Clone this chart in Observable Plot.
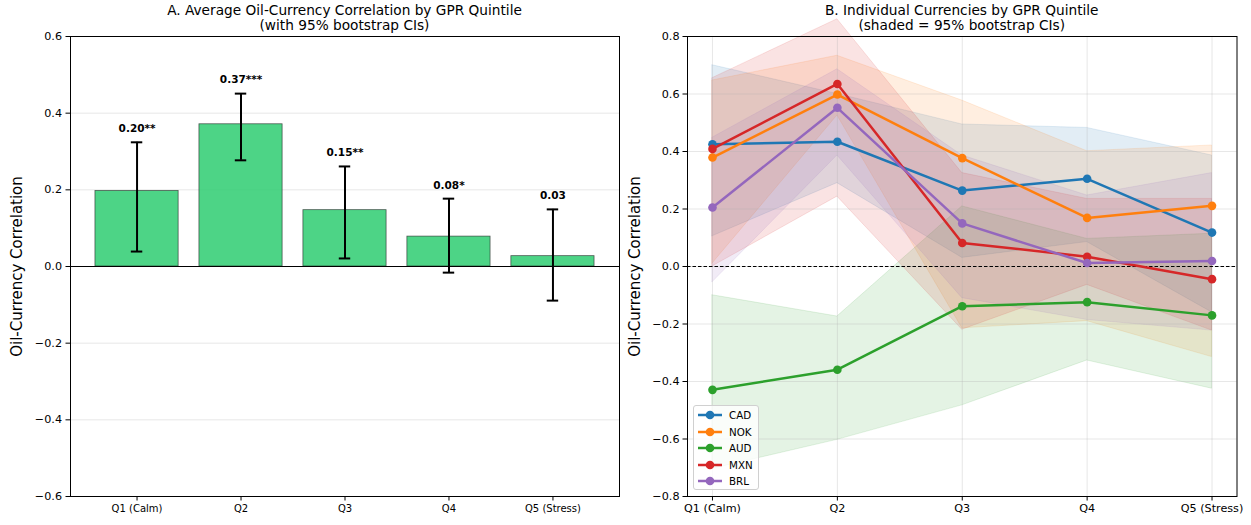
<!DOCTYPE html>
<html><head><meta charset="utf-8">
<script src="https://cdn.jsdelivr.net/npm/d3@7"></script>
<script src="https://cdn.jsdelivr.net/npm/@observablehq/plot@0.6"></script>
<style>
body{margin:0;background:#fff;font-family:"DejaVu Sans",sans-serif;}
#wrap{position:relative;width:1251px;height:525px;overflow:hidden;background:#fff;}
.panel{position:absolute;top:0;}
.title{position:absolute;top:3px;font-size:13.7px;line-height:14.5px;text-align:center;white-space:nowrap;transform:translateX(-50%);color:#000;}
#legend{position:absolute;left:693px;top:405px;width:66px;height:85px;border:1px solid #d0d0d0;border-radius:3px;background:rgba(255,255,255,0.8);box-sizing:border-box;}
.lrow{position:absolute;left:0;height:14px;display:flex;align-items:center;font-size:10.3px;}
.lrow svg{margin-left:4px;margin-right:7px;}
</style></head><body>
<div id="wrap">
 <div id="left" class="panel" style="left:0"></div>
 <div id="right" class="panel" style="left:630px"></div>
 <div class="title" style="left:344.5px">A. Average Oil-Currency Correlation by GPR Quintile<br>(with 95% bootstrap CIs)</div>
 <div class="title" style="left:961.75px">B. Individual Currencies by GPR Quintile<br>(shaded = 95% bootstrap CIs)</div>
 <div id="legend"></div>
</div>
<script>
// ---- Data ----
const quintiles = ["Q1 (Calm)", "Q2", "Q3", "Q4", "Q5 (Stress)"];
const avgCorr = [0.197, 0.371, 0.147, 0.078, 0.027];
const avgLo = [0.039, 0.277, 0.021, -0.016, -0.089];
const avgHi = [0.324, 0.451, 0.261, 0.177, 0.149];
const sigLabels = ["0.20**", "0.37***", "0.15**", "0.08*", "0.03"];
const leftTicks = [-0.6, -0.4, -0.2, 0, 0.2, 0.4, 0.6];
const rightTicks = [-0.8, -0.6, -0.4, -0.2, 0, 0.2, 0.4, 0.6, 0.8];

const currencies = ["CAD", "NOK", "AUD", "MXN", "BRL"];
const colors = ["#1f77b4", "#ff7f0e", "#2ca02c", "#d62728", "#9467bd"];
const cadCorr = [0.425, 0.434, 0.264, 0.305, 0.118];
const cadLo   = [0.105, 0.290, 0.030, 0.085, -0.160];
const cadHi   = [0.700, 0.600, 0.494, 0.482, 0.386];
const nokCorr = [0.379, 0.598, 0.377, 0.169, 0.211];
const nokLo   = [0.010, 0.525, -0.215, -0.190, -0.315];
const nokHi   = [0.647, 0.733, 0.577, 0.401, 0.421];
const audCorr = [-0.429, -0.359, -0.138, -0.124, -0.170];
const audLo   = [-0.704, -0.603, -0.483, -0.327, -0.425];
const audHi   = [-0.100, -0.174, 0.209, 0.096, 0.114];
const mxnCorr = [0.409, 0.635, 0.082, 0.034, -0.044];
const mxnLo   = [0.000, 0.243, -0.220, -0.064, -0.223];
const mxnHi   = [0.655, 0.860, 0.325, 0.235, 0.235];
const brlCorr = [0.205, 0.552, 0.150, 0.012, 0.019];
const brlLo   = [-0.055, 0.386, -0.110, -0.186, -0.223];
const brlHi   = [0.448, 0.686, 0.386, 0.247, 0.325];

const corrs = [cadCorr, nokCorr, audCorr, mxnCorr, brlCorr];
const lows = [cadLo, nokLo, audLo, mxnLo, brlLo];
const highs = [cadHi, nokHi, audHi, mxnHi, brlHi];
const ylabel = "Oil-Currency Correlation";

const font = {fontFamily: "DejaVu Sans", fontSize: "11px", color: "black", overflow: "visible", background: "transparent"};

// ---- Left panel ----
const bars = quintiles.map((q, i) => ({i, q, v: avgCorr[i], lo: avgLo[i], hi: avgHi[i], label: sigLabels[i]}));
const cap = 0.055, bw = 0.4;
const left = Plot.plot({
  width: 630, height: 525,
  marginLeft: 70, marginRight: 11, marginTop: 36, marginBottom: 29,
  style: font,
  x: {type: "linear", domain: [-0.64, 4.64]},
  y: {domain: [-0.6, 0.6]},
  marks: [
    Plot.gridY(leftTicks, {stroke: "#b0b0b0", strokeOpacity: 0.3}),
    Plot.rectY(bars, {x1: d => d.i - bw, x2: d => d.i + bw, y1: 0, y2: "v",
      fill: "#2ecc71", fillOpacity: 0.85, stroke: "#222", strokeOpacity: 0.7, strokeWidth: 0.8}),
    Plot.ruleY([0], {stroke: "black", strokeWidth: 1}),
    Plot.ruleX(bars, {x: "i", y1: "lo", y2: "hi", stroke: "black", strokeWidth: 2}),
    Plot.ruleY(bars, {x1: d => d.i - cap, x2: d => d.i + cap, y: "hi", stroke: "black", strokeWidth: 2}),
    Plot.ruleY(bars, {x1: d => d.i - cap, x2: d => d.i + cap, y: "lo", stroke: "black", strokeWidth: 2}),
    Plot.text(bars, {x: "i", y: "hi", text: "label", dy: -13.5, fontWeight: "bold", fontSize: 10.5}),
    Plot.frame({stroke: "black", strokeWidth: 1}),
    Plot.axisY(leftTicks, {tickFormat: ".1f", tickSize: 4.5, tickPadding: 4, fontSize: 11.2, label: null}),
    Plot.axisX([0, 1, 2, 3, 4], {tickFormat: i => quintiles[i], tickSize: 4.5, tickPadding: 3.5, fontSize: 10, label: null}),
    Plot.text([ylabel], {frameAnchor: "left", textAnchor: "middle", rotate: -90, dx: -53, fontSize: 15})
  ]
});
document.getElementById("left").append(left);

// ---- Right panel ----
const seriesRows = currencies.map((c, k) => quintiles.map((q, i) => ({cur: c, i, v: corrs[k][i], lo: lows[k][i], hi: highs[k][i]})));
const areaMarks = seriesRows.map((rows, k) =>
  Plot.areaY(rows, {x: "i", y1: "lo", y2: "hi", fill: colors[k], fillOpacity: 0.13, stroke: colors[k], strokeOpacity: 0.12, strokeWidth: 1}));
const lineMarks = seriesRows.flatMap((rows, k) => [
  Plot.lineY(rows, {x: "i", y: "v", stroke: colors[k], strokeWidth: 2.5}),
  Plot.dot(rows, {x: "i", y: "v", fill: colors[k], r: 4.3})
]);
const right = Plot.plot({
  width: 621, height: 525,
  marginLeft: 57, marginRight: 14.5, marginTop: 36, marginBottom: 29,
  style: font,
  x: {type: "linear", domain: [-0.2, 4.2]},
  y: {domain: [-0.8, 0.8]},
  marks: [
    ...areaMarks,
    Plot.gridX([0, 1, 2, 3, 4], {stroke: "#b0b0b0", strokeOpacity: 0.3}),
    Plot.gridY(rightTicks, {stroke: "#b0b0b0", strokeOpacity: 0.3}),
    Plot.ruleY([0], {stroke: "black", strokeWidth: 1, strokeDasharray: "3.5,2"}),
    ...lineMarks,
    Plot.frame({stroke: "black", strokeWidth: 1}),
    Plot.axisY(rightTicks, {tickFormat: ".1f", tickSize: 4.5, tickPadding: 3.5, fontSize: 11.2, label: null}),
    Plot.axisX([0, 1, 2, 3, 4], {tickFormat: i => quintiles[i], tickSize: 4.5, tickPadding: 3.5, fontSize: 11.2, label: null}),
    Plot.text([ylabel], {frameAnchor: "left", textAnchor: "middle", rotate: -90, dx: -52, fontSize: 15})
  ]
});
document.getElementById("right").append(right);

// ---- Legend ----
const leg = document.getElementById("legend");
currencies.forEach((c, k) => {
  const row = document.createElement("div");
  row.className = "lrow";
  row.style.top = (2 + k * 16.5) + "px";
  row.innerHTML = `<svg width="24" height="10"><line x1="0" y1="5" x2="24" y2="5" stroke="${colors[k]}" stroke-width="2.5"/><circle cx="12" cy="5" r="4.3" fill="${colors[k]}"/></svg><span>${c}</span>`;
  leg.append(row);
});
</script>
</body></html>
